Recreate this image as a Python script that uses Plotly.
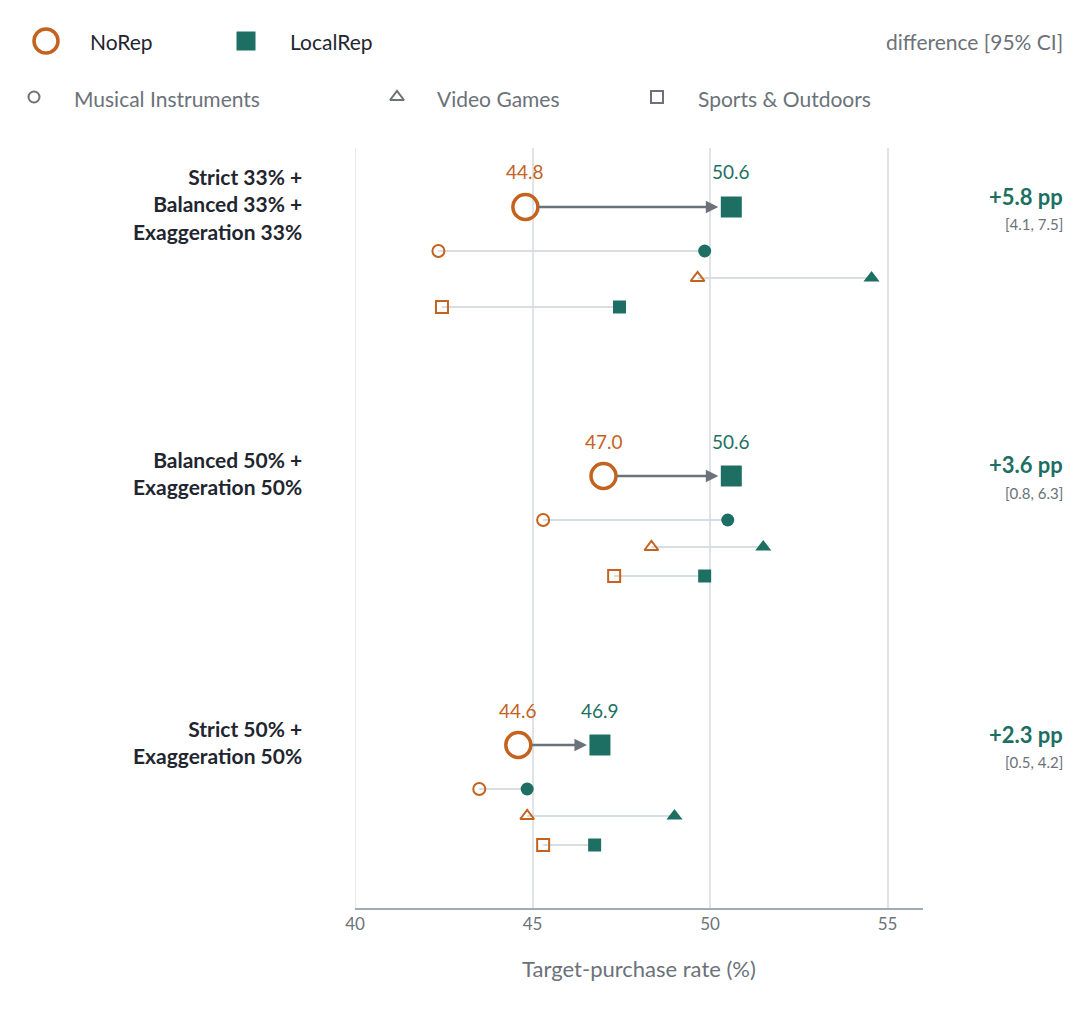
import plotly.graph_objects as go

# ---- data ----
groups = ["Strict 33% +<br>Balanced 33% +<br>Exaggeration 33%",
          "Balanced 50% +<br>Exaggeration 50%",
          "Strict 50% +<br>Exaggeration 50%"]
overall_norep = [44.8, 47.0, 44.6]
overall_localrep = [50.6, 50.6, 46.9]
diff_text = ["+5.8 pp", "+3.6 pp", "+2.3 pp"]
ci_text = ["[4.1, 7.5]", "[0.8, 6.3]", "[0.5, 4.2]"]

categories = ["Musical Instruments", "Video Games", "Sports & Outdoors"]
cat_norep = [[42.35, 49.65, 42.45],
             [45.3, 48.35, 47.3],
             [43.5, 44.85, 45.3]]
cat_localrep = [[49.85, 54.55, 47.45],
                [50.5, 51.5, 49.85],
                [44.85, 49.0, 46.75]]

# ---- style ----
ORANGE = "#c4621f"
TEAL = "#1e6f63"
GREY = "#6b7279"
LIGHT = "#d8dde1"
DARK = "#1f2630"
FONT = "Lato"
W, H = 1080, 1012
group_y = [199, 468, 737]
sub_off = [44, 71, 100]
open_sym = ["circle-open", "triangle-up-open", "square-open"]
fill_sym = ["circle", "triangle-up", "square"]
LEG_H = 125


def px(x, y):
    return x / W, 1 - y / H


fig = go.Figure()

for g in range(3):
    gy = group_y[g]
    for c in range(3):
        y = gy + sub_off[c]
        fig.add_trace(go.Scatter(x=[cat_norep[g][c], cat_localrep[g][c]], y=[y, y], mode="lines",
                                 line=dict(color=LIGHT, width=2), showlegend=False, hoverinfo="skip"))
        fig.add_trace(go.Scatter(x=[cat_norep[g][c]], y=[y], mode="markers", showlegend=False,
                                 marker=dict(symbol=open_sym[c], size=12, color=ORANGE, line=dict(width=2, color=ORANGE))))
        fig.add_trace(go.Scatter(x=[cat_localrep[g][c]], y=[y], mode="markers", showlegend=False,
                                 marker=dict(symbol=fill_sym[c], size=14 if c == 1 else 13, color=TEAL)))
    fig.add_annotation(x=overall_localrep[g], y=gy, ax=overall_norep[g], ay=gy, xref="x", yref="y",
                       axref="x", ayref="y", showarrow=True, arrowhead=2, arrowsize=1, arrowwidth=2.5,
                       arrowcolor=GREY, text="", standoff=13, startstandoff=12)
    fig.add_trace(go.Scatter(x=[overall_norep[g]], y=[gy], mode="markers", showlegend=False,
                             marker=dict(symbol="circle-open", size=25, color=ORANGE, line=dict(width=3.5, color=ORANGE))))
    fig.add_trace(go.Scatter(x=[overall_localrep[g]], y=[gy], mode="markers", showlegend=False,
                             marker=dict(symbol="square", size=21, color=TEAL)))
    fig.add_annotation(x=overall_norep[g], y=gy - 35, text=f"{overall_norep[g]:.1f}", showarrow=False,
                       font=dict(family=FONT, size=19, color=ORANGE))
    fig.add_annotation(x=overall_localrep[g], y=gy - 35, text=f"{overall_localrep[g]:.1f}", showarrow=False,
                       font=dict(family=FONT, size=19, color=TEAL))
    lx, ly = px(296, gy - 3)
    fig.add_annotation(x=lx, y=ly, xref="paper", yref="paper", text=f"<b>{groups[g]}</b>", showarrow=False,
                       xanchor="right", yanchor="middle", align="right", font=dict(family=FONT, size=21, color=DARK))
    rx, ry = px(1057, gy - 11)
    fig.add_annotation(x=rx, y=ry, xref="paper", yref="paper", text=f"<b>{diff_text[g]}</b>", showarrow=False,
                       xanchor="right", yanchor="middle", font=dict(family=FONT, size=22, color=TEAL))
    rx, ry = px(1057, gy + 17)
    fig.add_annotation(x=rx, y=ry, xref="paper", yref="paper", text=ci_text[g], showarrow=False,
                       xanchor="right", yanchor="middle", font=dict(family=FONT, size=15, color=GREY))

# ---- legend drawn on a pixel-coordinate subplot at the top ----
leg = [(38, 33, "circle-open", 24, ORANGE, 3.5), (238, 33, "square", 19, TEAL, 0),
       (26, 89, "circle-open", 11, GREY, 2), (389, 89, "triangle-up-open", 12, GREY, 2),
       (649, 89, "square-open", 12, GREY, 2)]
for x, y, s, sz, col, lw in leg:
    fig.add_trace(go.Scatter(x=[x], y=[y], xaxis="x2", yaxis="y2", mode="markers", showlegend=False,
                             marker=dict(symbol=s, size=sz, color=col, line=dict(width=lw, color=col))))
for x, y, t, col in [(80, 33, "NoRep", DARK), (280, 33, "LocalRep", DARK),
                     (64, 90, categories[0], GREY), (427, 90, categories[1], GREY),
                     (688, 90, categories[2], GREY)]:
    fig.add_annotation(x=x, y=y, xref="x2", yref="y2", text=t, showarrow=False, xanchor="left",
                       font=dict(family=FONT, size=21, color=col))
fig.add_annotation(x=1057, y=33, xref="x2", yref="y2", text="difference [95% CI]", showarrow=False,
                   xanchor="right", font=dict(family=FONT, size=21, color=GREY))

fig.update_layout(
    width=W, height=H, margin=dict(l=0, r=0, t=0, b=0, autoexpand=False),
    plot_bgcolor="white", paper_bgcolor="white",
    xaxis=dict(domain=[347 / W, 915 / W], range=[40, 56], tickvals=[40, 45, 50, 55],
               showgrid=True, gridcolor="#dfe3e6", gridwidth=1.5, zeroline=False,
               showline=True, linecolor="#a3abb2", linewidth=1.5, ticks="", anchor="y",
               tickfont=dict(family=FONT, size=17, color=GREY),
               title=dict(text="Target-purchase rate (%)", standoff=28,
                          font=dict(family=FONT, size=22, color=GREY))),
    yaxis=dict(domain=[1 - 900 / H, 1 - 140 / H], range=[900, 140], visible=False, anchor="x"),
    xaxis2=dict(domain=[0, 1], range=[0, W], visible=False, fixedrange=True, anchor="y2"),
    yaxis2=dict(domain=[1 - LEG_H / H, 1], range=[LEG_H, 0], visible=False, fixedrange=True, anchor="x2"),
)
# left axis line at 40
fig.add_shape(type="line", x0=40, x1=40, y0=140, y1=900, xref="x", yref="y",
              line=dict(color="#dfe3e6", width=1.5), layer="below")

fig.write_html("out.html")
